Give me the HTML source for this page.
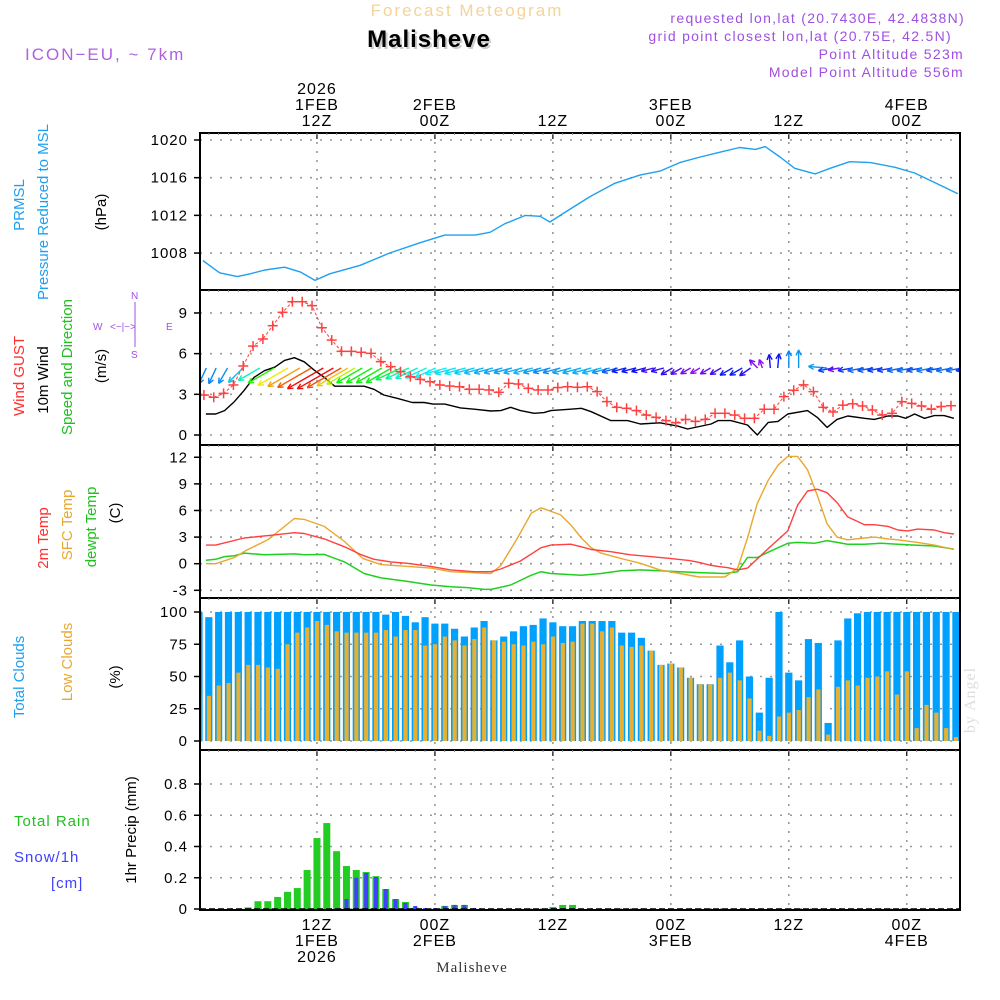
<!DOCTYPE html>
<html><head><meta charset="utf-8">
<style>
html,body{margin:0;padding:0;background:#fff;}
body{width:1000px;height:1000px;overflow:hidden;position:relative;font-family:"Liberation Sans",sans-serif;}
svg{position:absolute;left:0;top:0;}
text{font-family:"Liberation Sans",sans-serif;}
</style></head>
<body>
<svg id="chart" width="1000" height="1000" viewBox="0 0 1000 1000">
<defs>
<clipPath id="plotclip"><rect x="201" y="130" width="758" height="782"/></clipPath>
</defs>
<g id="static">
<text x="467" y="16" text-anchor="middle" font-size="17" fill="#f3d49a" letter-spacing="2">Forecast Meteogram</text>
<text x="431" y="49" text-anchor="middle" font-size="24" font-weight="bold" fill="#ccc" letter-spacing="1">Malisheve</text>
<text x="429" y="47" text-anchor="middle" font-size="24" font-weight="bold" fill="#000" letter-spacing="1">Malisheve</text>
<text x="25" y="60" font-size="17" fill="#b060e0" letter-spacing="2">ICON−EU, ~ 7km</text>
<g font-size="14" fill="#a050e0" text-anchor="end" letter-spacing="1.3">
<text x="965" y="23">requested lon,lat (20.7430E, 42.4838N)</text>
<text x="952" y="41">grid point closest lon,lat (20.75E, 42.5N)</text>
<text x="964" y="59">Point Altitude 523m</text>
<text x="964" y="77">Model Point Altitude 556m</text>
</g>
<text x="975" y="700" font-size="16" fill="#ddd" style="font-family:'Liberation Serif',serif" transform="rotate(-90 975 700)" text-anchor="middle" letter-spacing="1">by Angel</text>
<text x="472" y="972" text-anchor="middle" font-size="15" fill="#333" style="font-family:'Liberation Serif',serif" letter-spacing="1">Malisheve</text>
<g font-size="15" text-anchor="middle">
<text transform="translate(24,205) rotate(-90)" fill="#1ea0f0">PRMSL</text>
<text transform="translate(48,212) rotate(-90)" fill="#1ea0f0">Pressure Reduced to MSL</text>
<text transform="translate(106,212) rotate(-90)" fill="#000">(hPa)</text>
<text transform="translate(24,376) rotate(-90)" fill="#ff3030">Wind GUST</text>
<text transform="translate(48,380) rotate(-90)" fill="#000">10m Wind</text>
<text transform="translate(72,367) rotate(-90)" fill="#20c020">Speed and Direction</text>
<text transform="translate(106,366) rotate(-90)" fill="#000">(m/s)</text>
<text transform="translate(48,538) rotate(-90)" fill="#ff3030">2m Temp</text>
<text transform="translate(72,525) rotate(-90)" fill="#e8a830">SFC Temp</text>
<text transform="translate(96,527) rotate(-90)" fill="#20c020">dewpt Temp</text>
<text transform="translate(120,513) rotate(-90)" fill="#000">(C)</text>
<text transform="translate(24,677) rotate(-90)" fill="#1ea0f0">Total Clouds</text>
<text transform="translate(72,662) rotate(-90)" fill="#e8a830">Low Clouds</text>
<text transform="translate(120,677) rotate(-90)" fill="#000">(%)</text>
<text transform="translate(136,830) rotate(-90)" fill="#000">1hr Precip (mm)</text>
</g>
<g font-size="15" letter-spacing="1">
<text x="14" y="826" fill="#20c020">Total  Rain</text>
<text x="14" y="862" fill="#4040ff">Snow/1h</text>
<text x="51" y="888" fill="#4040ff">[cm]</text>
</g>
<g font-size="10" fill="#a050e0">
<text x="131" y="299">N</text>
<text x="93" y="330">W</text>
<text x="110" y="330">&lt;−|−&gt;</text>
<text x="166" y="330">E</text>
<text x="131" y="358">S</text>
<line x1="135" y1="302" x2="135" y2="347" stroke="#a050e0" stroke-width="1"/>
</g>
</g>
<g id="grid"></g>
<g id="marks" clip-path="url(#plotclip)"></g>
<g id="frames"></g>
<g id="axes"></g>
</svg>
<script>
// ---------- data ----------
const pressHours = [0.4,2.1,3.9,5.2,6.7,8.7,10.3,11.8,13.3,16.4,19.4,22.5,25,28.1,29.6,31.1,33.2,34.7,35.7,37.2,39.8,42.3,44.9,46.9,48.9,51,53,55,56.6,57.6,59.1,60.6,62.7,64.2,66.2,68.3,70.8,72.8,74.8,77.2];
const pressVals = [1007.2,1005.9,1005.5,1005.8,1006.2,1006.5,1006.0,1005.1,1005.8,1006.7,1008.0,1009.1,1009.9,1009.9,1010.2,1011.1,1012.0,1011.9,1011.3,1012.3,1014.0,1015.4,1016.3,1016.7,1017.6,1018.2,1018.7,1019.2,1019.0,1019.3,1018.2,1017.0,1016.4,1017.0,1017.7,1017.6,1017.1,1016.5,1015.5,1014.3];

const gustVals = [2.95,2.78,3.07,3.69,5.09,6.56,7.08,8.06,9.05,9.83,9.83,9.54,7.91,7.0,6.17,6.17,6.1,6.02,5.41,5.04,4.67,4.3,4.1,3.93,3.69,3.61,3.56,3.37,3.37,3.32,3.15,3.81,3.76,3.44,3.32,3.32,3.5,3.56,3.52,
 3.56,3.2,2.46,2.04,1.97,1.8,1.47,1.3,1.06,0.9,1.15,1.0,1.15,1.6,1.6,1.47,1.23,1.23,1.9,1.9,2.83,3.3,3.7,3.2,2.04,1.7,2.2,2.3,2.14,1.84,1.47,1.6,2.46,2.33,2.14,1.9,2.1,2.16];

const windHours = [0.7,1.7,2.6,3.6,4.6,5.6,6.65,7.7,8.7,9.7,10.7,11.7,12.75,13.8,14.8,16.8,17.8,18.8,20.2,21.7,22.9,23.8,25,26.6,28,29.7,30.7,31.7,32.7,34.1,35.1,35.8,37.8,38.9,39.9,41.9,43.6,44.9,46.9,48.7,49.7,52.1,52.8,54.1,55.8,56.8,57.9,58.9,59.9,61.9,62.9,63.9,64.9,66,67.7,68.7,70.1,71.1,71.9,72.8,73.8,74.8,75.8,76.8];
const windVals = [1.55,1.55,1.8,2.46,3.3,4.25,4.74,5.0,5.5,5.7,5.4,4.8,4.25,3.6,3.6,3.6,3.37,2.95,2.7,2.4,2.4,2.28,2.28,2.0,1.9,1.77,1.8,2.04,1.8,1.6,1.65,1.8,1.9,1.97,1.72,1.06,1.06,0.81,0.9,0.66,0.44,0.81,1.06,1.06,0.74,0.0,0.93,1.0,1.55,1.8,1.3,0.56,1.15,1.4,1.23,1.15,1.4,1.4,1.23,1.55,1.23,1.43,1.43,1.23];

const windDirs = [245,245,240,225,
 210,210,210,210,210,210,210,210,210,210,210,210,210,210,
 205,205,205,205,205,
 195,195,195,195,195,195,195,195,195,195,195,195,195,195,195,195,195,195,195,195,195,195,195,195,
 210,210,210,210,210,210,210,210,
 215,135,110,95,85,90,90,175,
 190,190,190,190,190,190,190,190,190,190,190,190,190,190,190];

const t2Hours = [0.7,1.7,4.6,7.3,9.7,10.7,12.75,14.8,16.5,17.8,19.5,21.2,23.6,25.6,28,29.7,30.7,32.7,34.8,35.8,37.8,38.9,39.9,41.9,43.9,45.9,47.9,49.9,50.9,51.9,52.8,53.8,54.8,55.8,57.9,59.9,60.9,61.9,62.9,63.9,64.9,65.97,67.7,68.7,70.1,71.1,72.1,73.1,74.8,75.8,76.8];
const t2Vals = [2.1,2.1,2.9,3.2,3.5,3.4,2.8,1.9,1.0,0.5,0.2,0.04,-0.3,-0.7,-0.9,-0.9,-0.6,0.3,1.8,2.1,2.2,1.9,1.6,1.35,1.0,0.8,0.6,0.35,0.15,-0.15,-0.3,-0.45,-0.7,-0.5,1.7,3.7,6.6,8.2,8.4,8.0,6.9,5.3,4.4,4.4,4.2,3.8,3.7,3.9,3.8,3.5,3.35];
const sfcHours = [0.7,1.7,3.6,4.8,7.0,9.7,10.7,12.75,14.8,16.65,18.5,21.2,23.6,25.6,29.7,30.7,32.4,33.8,34.8,36.8,37.8,38.9,39.9,40.9,42.9,44.9,46.9,48.9,50.9,53.5,54.8,55.8,56.8,57.9,58.9,59.9,60.9,61.9,62.9,63.9,64.9,65.97,67.7,68.7,70.1,71.1,73.1,74.8,76.8];
const sfcVals = [0,0,0.7,1.5,2.7,5.1,5.0,4.2,2.5,0.6,-0.1,-0.3,-0.5,-0.9,-1.1,-0.2,2.9,5.7,6.3,5.5,4.4,2.9,1.8,1.2,0.6,0.04,-0.7,-1.1,-1.5,-1.5,-0.5,2.9,6.8,9.4,11.1,12.1,12.1,10.6,7.7,4.5,3.0,2.7,2.9,3.0,2.8,2.7,2.4,2.1,1.6];
const dewHours = [0.7,1.7,2.6,3.6,4.6,6.65,9.7,10.7,12.75,14.8,16.8,18.5,21.2,23.6,25.6,27.3,29,29.7,31.7,33.8,34.8,35.8,38.9,40.9,42.9,44.9,46.9,48.9,50.9,53.5,54.8,55.8,56.8,57.9,58.9,59.9,60.9,62.6,63.9,64.9,65.97,67.7,69.4,71.1,72.8,74.8,76.8];
const dewVals = [0.4,0.5,0.8,0.9,1.2,1.0,1.1,1.0,1.05,0.2,-1.1,-1.6,-2.0,-2.4,-2.6,-2.7,-2.9,-2.9,-2.4,-1.3,-0.9,-1.1,-1.3,-1.1,-0.8,-0.7,-0.8,-0.9,-1.0,-1.1,-0.9,0.7,0.7,1.3,1.8,2.3,2.4,2.3,2.6,2.4,2.2,2.2,2.3,2.2,2.1,2.0,1.65];

const totalCloud = [100,96,100,100,100,100,100,100,100,100,100,100,100,100,100,100,100,100,100,98,100,97,92,96,91,91,87,81,88,93,78,81,85,89,90,95,92,89,89,93,93,93,93,84,84,80,70,59,60,57,49,44,44,74,61,78,50,22,49,100,53,47,79,76,14,78,95,99,100,100,100,100,100,100,100,100,100,100];
const lowCloud = [36,35,43,45,53,59,59,57,56,75,84,88,93,90,85,84,84,84,84,86,81,86,86,74,75,81,78,74,79,88,78,77,75,74,77,75,81,76,77,91,91,85,88,74,73,74,70,59,60,57,49,44,44,49,53,47,33,8,4,19,22,24,34,40,5,42,47,43,49,50,54,36,54,10,28,22,10,3];

const rainHours = [5,6,7,8,9,10,11,12,13,14,15,16,17,18,19,20,21,22,25,26,27,36,37,38];
const rainVals = [0.01,0.05,0.05,0.077,0.11,0.134,0.25,0.454,0.55,0.37,0.275,0.25,0.237,0.21,0.128,0.064,0.045,0.008,0.02,0.026,0.026,0.013,0.026,0.026];
const snowHours = [14,15,16,17,18,19,20,21,22,23,24,25,26,27,28,36,37,38];
const snowVals = [0.006,0.064,0.2,0.23,0.205,0.128,0.064,0.038,0.019,0.006,0.006,0.019,0.026,0.026,0.006,0.006,0.006,0.006];

const pressTicks = [1008,1012,1016,1020];
const windTicks = [0,3,6,9];
const tempTicks = [-3,0,3,6,9,12];
const cloudTicks = [0,25,50,75,100];
const precipTicks = [0,0.2,0.4,0.6,0.8];
const precipTickLabels = ["0","0.2","0.4","0.6","0.8"];
const timeTickHours = [12,24,36,48,60,72];
const topTimeLabels = [["2026","1FEB","12Z"],["2FEB","00Z"],["12Z"],["3FEB","00Z"],["12Z"],["4FEB","00Z"]];
const bottomTimeLabels = [["12Z","1FEB","2026"],["00Z","2FEB"],["12Z"],["00Z","3FEB"],["12Z"],["00Z","4FEB"]];

// ---------- scales ----------
const X0 = 200, X1 = 960;
const X = h => 199 + 9.83*h;
const Yp = p => 140 + (1020-p)*9.42;
const Yw = v => 435 - v*13.56;
const Yt = t => 563.7 - t*8.87;
const Yc = c => 741 - c*1.29;
const Yr = v => 909 - v*156.25;
const panels = [[133,290,'pressure-panel'],[290,445,'wind-panel'],[445,598,'temperature-panel'],[598,750,'cloud-panel'],[750,910,'precip-panel']];

const NS = 'http://www.w3.org/2000/svg';
function mk(tag, attrs, parent){
  const e = document.createElementNS(NS, tag);
  for (const k in attrs) e.setAttribute(k, attrs[k]);
  parent.appendChild(e);
  return e;
}
const grid = document.getElementById('grid');
const marks = document.getElementById('marks');
const frames = document.getElementById('frames');
const axes = document.getElementById('axes');

panels.forEach(([t,b,name])=>{
  timeTickHours.forEach(h=>{
    const l = mk('line',{x1:X(h),x2:X(h),y1:t,y2:b,stroke:'#999','stroke-width':1.6,'stroke-dasharray':'2 7'},grid);
    
    
  });
});
function hgrid(ticks, Y, labels, name){
  ticks.forEach((v,i)=>{
    const y = Y(v);
    const l = mk('line',{x1:X0,x2:X1,y1:y,y2:y,stroke:'#999','stroke-width':1.6,'stroke-dasharray':'2 8'},grid);
    
    
    mk('line',{x1:X0-6,x2:X0,y1:y,y2:y,stroke:'#000','stroke-width':1.5},axes);
    const tx = mk('text',{x:X0-12,y:y+5,'text-anchor':'end','font-size':15,fill:'#000','letter-spacing':1},axes);
    tx.textContent = labels ? labels[i] : String(v);
    
    
  });
}
hgrid(pressTicks, Yp, null, 'pressure');
hgrid(windTicks, Yw, null, 'wind');
hgrid(tempTicks, Yt, null, 'temperature');
hgrid(cloudTicks, Yc, null, 'cloud');
hgrid(precipTicks, Yr, precipTickLabels, 'precip');

panels.forEach(([t,b,name])=>{
  const r = mk('rect',{x:X0,y:t,width:X1-X0,height:b-t,fill:'none',stroke:'#000','stroke-width':2},frames);
  
  
  timeTickHours.forEach(h=>{
    mk('line',{x1:X(h),x2:X(h),y1:t,y2:t+6,stroke:'#000','stroke-width':1.2},frames);
  });
  for(let h=1;h<78;h++){
    mk('line',{x1:X(h),x2:X(h),y1:t,y2:t+2,stroke:'#888','stroke-width':1},frames);
  }
});

timeTickHours.forEach((h,i)=>{
  const top = topTimeLabels[i];
  top.forEach((s,j)=>{
    const tx = mk('text',{x:X(h),y:126-(top.length-1-j)*16,'text-anchor':'middle','font-size':16,fill:'#000','letter-spacing':1},axes);
    tx.textContent = s;
    
    
  });
  bottomTimeLabels[i].forEach((s,j)=>{
    const tx = mk('text',{x:X(h),y:930+j*16,'text-anchor':'middle','font-size':16,fill:'#000','letter-spacing':1},axes);
    tx.textContent = s;
    
    
  });
});

function line(hours, vals, Y, color, w, name, dash){
  const pts = hours.map((h,i)=>X(h).toFixed(1)+','+Y(vals[i]).toFixed(1)).join(' ');
  const p = mk('polyline',{points:pts,fill:'none',stroke:color,'stroke-width':w,'stroke-linejoin':'round'},marks);
  if(dash) p.setAttribute('stroke-dasharray',dash);
  
  
}

line(pressHours, pressVals, Yp, '#1ea0f0', 1.4, 'pressure-line');

totalCloud.forEach((v,h)=>{
  const r = mk('rect',{x:X(h)-3.6,y:Yc(v),width:7.2,height:Yc(0)-Yc(v),fill:'#00a0ff'},marks);
  
  
});
lowCloud.forEach((v,h)=>{
  const r = mk('rect',{x:X(h)-2,y:Yc(v),width:4.2,height:Yc(0)-Yc(v),fill:'#e8b030'},marks);
  
  
});

rainHours.forEach((h,i)=>{
  const r = mk('rect',{x:X(h)-3.5,y:Yr(rainVals[i]),width:7,height:Yr(0)-Yr(rainVals[i]),fill:'#22cc22'},marks);
  
  
});
snowHours.forEach((h,i)=>{
  const r = mk('rect',{x:X(h)-2,y:Yr(snowVals[i]),width:4,height:Yr(0)-Yr(snowVals[i]),fill:'#4040ff'},marks);
  
  
});
mk('line',{x1:X0,x2:X1,y1:Yr(0),y2:Yr(0),stroke:'#000','stroke-width':1.5,'stroke-dasharray':'6 3'},marks);

line(dewHours, dewVals, Yt, '#20d020', 1.5, 'dewpoint-line');
line(sfcHours, sfcVals, Yt, '#e8a830', 1.4, 'sfc-temp-line');
line(t2Hours, t2Vals, Yt, '#ff4040', 1.4, 'temp-2m-line');

line(windHours, windVals, Yw, '#000', 1.4, 'wind-speed-line');

function interpWind(h){
  if(h<=windHours[0]) return windVals[0];
  for(let i=1;i<windHours.length;i++){
    if(h<=windHours[i]){const f=(h-windHours[i-1])/(windHours[i]-windHours[i-1]);return windVals[i-1]+f*(windVals[i]-windVals[i-1]);}
  }
  return windVals[windVals.length-1];
}
function speedColor(v){
  const stops=[[0.5,275],[1.0,240],[1.5,210],[2.0,195],[2.7,170],[3.6,120],[4.0,80],[4.5,55],[5.0,30],[5.5,0]];
  let hue=stops[0][1];
  if(v>=5.5) hue=0; else for(let i=1;i<stops.length;i++){ if(v<=stops[i][0]){const f=(v-stops[i-1][0])/(stops[i][0]-stops[i-1][0]);hue=stops[i-1][1]+f*(stops[i][1]-stops[i-1][1]);break;} }
  if(v<stops[0][0]) hue=275;
  return 'hsl('+hue.toFixed(0)+',90%,50%)';
}
windDirs.forEach((d,h)=>{
  const v = interpWind(h);
  const L = 8 + 6*v;
  const a = d*Math.PI/180;
  const ux = Math.cos(a), uy = -Math.sin(a);
  const tailY = 368;
  const hx = X(h), hy = tailY + L*uy;
  const tx = hx - L*ux, ty = tailY;
  const col = speedColor(v);
  const g = mk('g',{stroke:col,'stroke-width':1.4,fill:'none'},marks);
  
  
  mk('line',{x1:tx,y1:ty,x2:hx,y2:hy},g);
  const hl = 6, sp = 0.45;
  [sp,-sp].forEach(s=>{
    const bx = -ux, by = -uy;
    const rx = bx*Math.cos(s)-by*Math.sin(s), ry = bx*Math.sin(s)+by*Math.cos(s);
    mk('line',{x1:hx,y1:hy,x2:hx+rx*hl,y2:hy+ry*hl},g);
  });
});

const gustHours = gustVals.map((v,i)=>i+0.5);
line(gustHours, gustVals, Yw, '#ff4040', 1, 'gust-line', '3 2');
gustVals.forEach((v,i)=>{
  const x = X(gustHours[i]), y = Yw(v);
  const g = mk('g',{stroke:'#ff4040','stroke-width':1.5},marks);
  
  
  mk('line',{x1:x-5,x2:x+5,y1:y,y2:y},g);
  mk('line',{x1:x,x2:x,y1:y-5,y2:y+5},g);
});
</script>
</body></html>
